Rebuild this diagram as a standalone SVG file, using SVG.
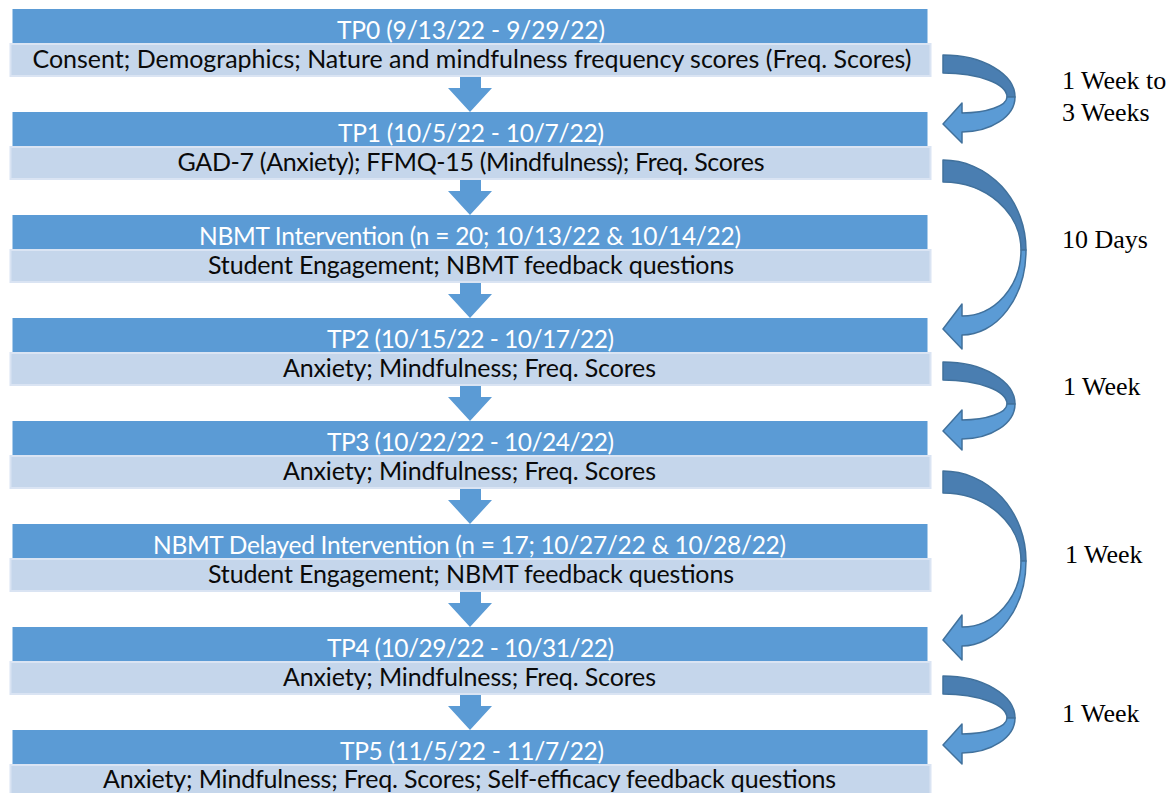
<svg xmlns="http://www.w3.org/2000/svg" width="1173" height="793" viewBox="0 0 1173 793">
<style>
.hd{fill:#5B9BD5}
.sb{fill:#C5D6EB;stroke:#DAE4F3;stroke-width:2}
.ht{font-family:Lato,"Open Sans",sans-serif;font-size:24.5px;fill:#FFFFFF;text-anchor:middle}
.st{font-family:Lato,"Open Sans",sans-serif;font-size:25px;fill:#0A0A0A;text-anchor:middle}
.lb{font-family:"Liberation Serif","Times New Roman",serif;font-size:26px;fill:#000}
.da{fill:#5B9BD5}
.cd{fill:#4A7EB1;stroke:#41719C;stroke-width:1.5;stroke-linejoin:round}
.cl{fill:#5B9BD5;stroke:#41719C;stroke-width:1.5;stroke-linejoin:round}
</style>
<defs>
<path id="down" d="M460,77 H481 V88 H492 L470,112 L448,88 H460 Z"/>
<g id="curveS">
<path class="cd" d="M943,55 A72,42 0 0 1 1015,97 L1007,97 A64,24 0 0 0 943,73 Z"/>
<path class="cl" d="M1015,97 A53,35 0 0 1 962,132 L962,143 L943,124 L962,103 L962,113 A45,16 0 0 0 1007,97 Z"/>
</g>
<g id="curveL">
<path class="cd" d="M943,160 A83,90 0 0 1 1026,250 L1021,250 A78,68 0 0 0 943,182 Z"/>
<path class="cl" d="M1026,250 A64,85 0 0 1 962,335 L962,349 L943,329 L962,304 L962,316 A59,66 0 0 0 1021,250 Z"/>
</g>
</defs>

<g id="tp0">
<rect class="hd" x="12.5" y="9" width="915" height="34"/>
<rect class="sb" x="10.5" y="44" width="920" height="32"/>
<text class="ht" x="471" y="39" textLength="268">TP0 (9/13/22 - 9/29/22)</text>
<text class="st" x="472" y="68" textLength="879">Consent; Demographics; Nature and mindfulness frequency scores (Freq. Scores)</text>
</g>
<g id="tp1">
<rect class="hd" x="12.5" y="112" width="915" height="34"/>
<rect class="sb" x="10.5" y="147" width="920" height="32"/>
<text class="ht" x="471" y="142" textLength="266">TP1 (10/5/22 - 10/7/22)</text>
<text class="st" x="471" y="171" textLength="587">GAD-7 (Anxiety); FFMQ-15 (Mindfulness); Freq. Scores</text>
</g>
<g id="nbmt">
<rect class="hd" x="12.5" y="215" width="915" height="34"/>
<rect class="sb" x="10.5" y="250" width="920" height="32"/>
<text class="ht" x="470" y="245" textLength="542">NBMT Intervention (n = 20; 10/13/22 &amp; 10/14/22)</text>
<text class="st" x="471" y="274" textLength="526">Student Engagement; NBMT feedback questions</text>
</g>
<g id="tp2">
<rect class="hd" x="12.5" y="318" width="915" height="34"/>
<rect class="sb" x="10.5" y="353" width="920" height="32"/>
<text class="ht" x="470.5" y="348" textLength="287">TP2 (10/15/22 - 10/17/22)</text>
<text class="st" x="469.5" y="377" textLength="373">Anxiety; Mindfulness; Freq. Scores</text>
</g>
<g id="tp3">
<rect class="hd" x="12.5" y="421" width="915" height="34"/>
<rect class="sb" x="10.5" y="456" width="920" height="32"/>
<text class="ht" x="470.5" y="451" textLength="287">TP3 (10/22/22 - 10/24/22)</text>
<text class="st" x="469.5" y="480" textLength="373">Anxiety; Mindfulness; Freq. Scores</text>
</g>
<g id="nbmt-delayed">
<rect class="hd" x="12.5" y="524" width="915" height="34"/>
<rect class="sb" x="10.5" y="559" width="920" height="32"/>
<text class="ht" x="469.5" y="554" textLength="633">NBMT Delayed Intervention (n = 17; 10/27/22 &amp; 10/28/22)</text>
<text class="st" x="471" y="583" textLength="526">Student Engagement; NBMT feedback questions</text>
</g>
<g id="tp4">
<rect class="hd" x="12.5" y="627" width="915" height="34"/>
<rect class="sb" x="10.5" y="662" width="920" height="32"/>
<text class="ht" x="470.5" y="657" textLength="287">TP4 (10/29/22 - 10/31/22)</text>
<text class="st" x="469.5" y="686" textLength="373">Anxiety; Mindfulness; Freq. Scores</text>
</g>
<g id="tp5">
<rect class="hd" x="12.5" y="730" width="915" height="34"/>
<rect class="sb" x="10.5" y="765" width="920" height="32"/>
<text class="ht" x="472" y="760" textLength="264">TP5 (11/5/22 - 11/7/22)</text>
<text class="st" x="469.5" y="788" textLength="733">Anxiety; Mindfulness; Freq. Scores; Self-efficacy feedback questions</text>
</g>

<g id="connectors">
<use href="#down" class="da"/>
<use href="#down" class="da" transform="translate(0,103)"/>
<use href="#down" class="da" transform="translate(0,206)"/>
<use href="#down" class="da" transform="translate(0,309)"/>
<use href="#down" class="da" transform="translate(0,412)"/>
<use href="#down" class="da" transform="translate(0,515)"/>
<use href="#down" class="da" transform="translate(0,618)"/>
<use href="#curveS"/>
<use href="#curveL"/>
<use href="#curveS" transform="translate(0,307)"/>
<use href="#curveL" transform="translate(0,311)"/>
<use href="#curveS" transform="translate(0,621)"/>
</g>

<g id="labels">
<text class="lb" x="1062" y="89">1 Week to</text>
<text class="lb" x="1062" y="121">3 Weeks</text>
<text class="lb" x="1062" y="248">10 Days</text>
<text class="lb" x="1063" y="395">1 Week</text>
<text class="lb" x="1065" y="563">1 Week</text>
<text class="lb" x="1062" y="722">1 Week</text>
</g>
</svg>
